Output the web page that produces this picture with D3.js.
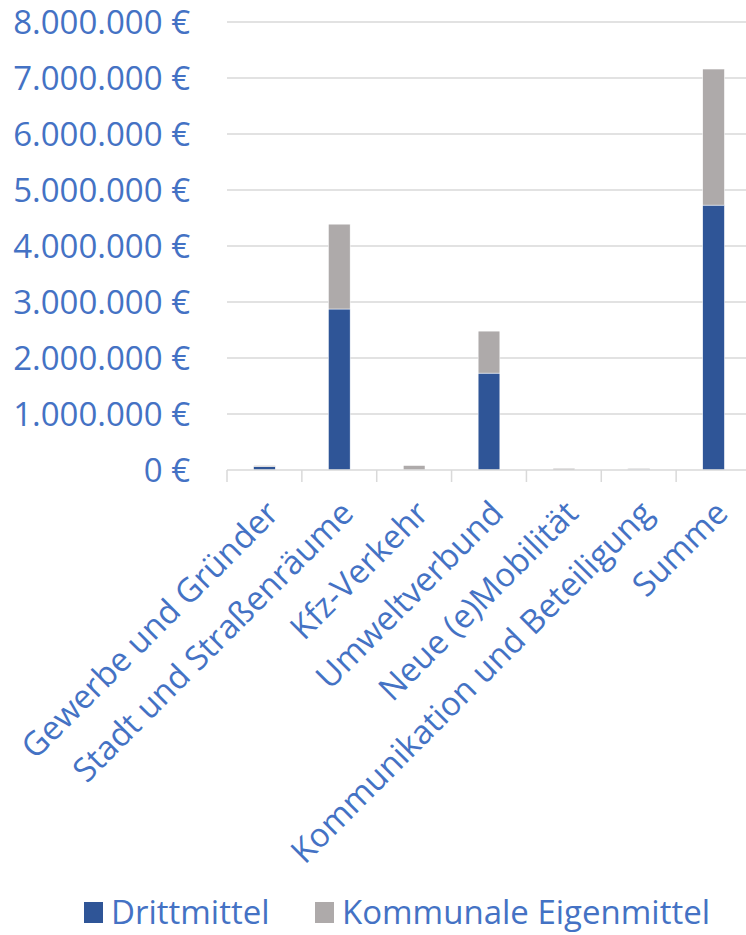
<!DOCTYPE html>
<html>
<head>
<meta charset="utf-8">
<script src="https://cdn.jsdelivr.net/npm/d3@7"></script>
<style>
  body { margin: 0; background: #fff; }
  text { font-family: "Open Sans", sans-serif; fill: #4472C4; }
</style>
</head>
<body>
<div id="chart"></div>
<script>
// data
var categories = ["Gewerbe und Gründer", "Stadt und Straßenräume", "Kfz-Verkehr",
  "Umweltverbund", "Neue (e)Mobilität", "Kommunikation und Beteiligung", "Summe"];
var drittmittel = [60000, 2875000, 0, 1730000, 0, 15000, 4730000];
var eigenmittel = [20000, 1515000, 80000, 750000, 30000, 15000, 2430000];
var seriesNames = ["Drittmittel", "Kommunale Eigenmittel"];
var seriesColors = ["#2F5597", "#AEAAAA"];
var yTicks = [0, 1000000, 2000000, 3000000, 4000000, 5000000, 6000000, 7000000, 8000000];

var svgWidth = 746;
var svgHeight = 935;

var margin = { top: 22, right: -5, bottom: 465, left: 227 };
var width = svgWidth - margin.left - margin.right;
var height = svgHeight - margin.top - margin.bottom;

var svg = d3.select("#chart")
  .append("svg")
  .attr("width", svgWidth)
  .attr("height", svgHeight);

var chartGroup = svg.append("g")
  .attr("transform", `translate(${margin.left}, ${margin.top})`);

var xScale = d3.scaleBand()
  .domain(categories)
  .range([0, width])
  .paddingInner(0.71)
  .paddingOuter(0.355);

var yScale = d3.scaleLinear()
  .domain([0, 8000000])
  .range([height, 0]);

// gridlines
chartGroup.append("g")
  .selectAll("line")
  .data(yTicks.slice(1))
  .enter()
  .append("line")
  .attr("x1", 0)
  .attr("x2", width)
  .attr("y1", d => yScale(d))
  .attr("y2", d => yScale(d))
  .attr("stroke", "#D9D9D9")
  .attr("stroke-width", 1.5);

// y labels
var fmt = d3.formatLocale({ decimal: ",", thousands: ".", grouping: [3], currency: ["", " €"] }).format(",");
chartGroup.append("g")
  .selectAll("text")
  .data(yTicks)
  .enter()
  .append("text")
  .attr("x", -37)
  .attr("y", d => yScale(d))
  .attr("dy", "0.35em")
  .attr("text-anchor", "end")
  .style("font-size", "33px")
  .text(d => fmt(d) + " €");

// stacked bars
var rows = categories.map((c, i) => ({ cat: c, Drittmittel: drittmittel[i], "Kommunale Eigenmittel": eigenmittel[i] }));
var stacked = d3.stack().keys(seriesNames)(rows);

chartGroup.append("g")
  .selectAll("g")
  .data(stacked)
  .enter()
  .append("g")
  .attr("fill", (d, i) => seriesColors[i])
  .selectAll("rect")
  .data(d => d)
  .enter()
  .append("rect")
  .attr("x", d => xScale(d.data.cat))
  .attr("width", xScale.bandwidth())
  .attr("y", d => yScale(d[1]))
  .attr("height", d => Math.max(0, yScale(d[0]) - yScale(d[1])))
  .attr("stroke", "#fff")
  .attr("stroke-width", 0.5);

// x axis line and ticks between categories
var step = xScale.step();
var xAxis = chartGroup.append("g")
  .attr("transform", `translate(0, ${height})`);

xAxis.append("line")
  .attr("x1", 0)
  .attr("x2", width)
  .attr("stroke", "#D9D9D9")
  .attr("stroke-width", 1.5);

xAxis.selectAll(".tk")
  .data(d3.range(categories.length))
  .enter()
  .append("line")
  .attr("x1", i => i * step)
  .attr("x2", i => i * step)
  .attr("y1", 0)
  .attr("y2", 12)
  .attr("stroke", "#D9D9D9")
  .attr("stroke-width", 1.5);

xAxis.selectAll(".lbl")
  .data(categories)
  .enter()
  .append("text")
  .attr("transform", d => `translate(${xScale(d) + xScale.bandwidth() / 2 + 8}, 37) rotate(-45)`)
  .attr("text-anchor", "end")
  .attr("dy", "0.35em")
  .style("font-size", "33px")
  .text(d => d);

// legend
var legend = svg.append("g").attr("transform", "translate(0, 912)");
var legendX = [84, 315];
seriesNames.forEach(function(name, i) {
  legend.append("rect")
    .attr("x", legendX[i])
    .attr("y", -10)
    .attr("width", 19)
    .attr("height", 21)
    .attr("fill", seriesColors[i]);
  legend.append("text")
    .attr("x", legendX[i] + 27)
    .attr("y", 0)
    .attr("dy", "0.35em")
    .style("font-size", "33px")
    .text(name);
});
</script>
</body>
</html>
